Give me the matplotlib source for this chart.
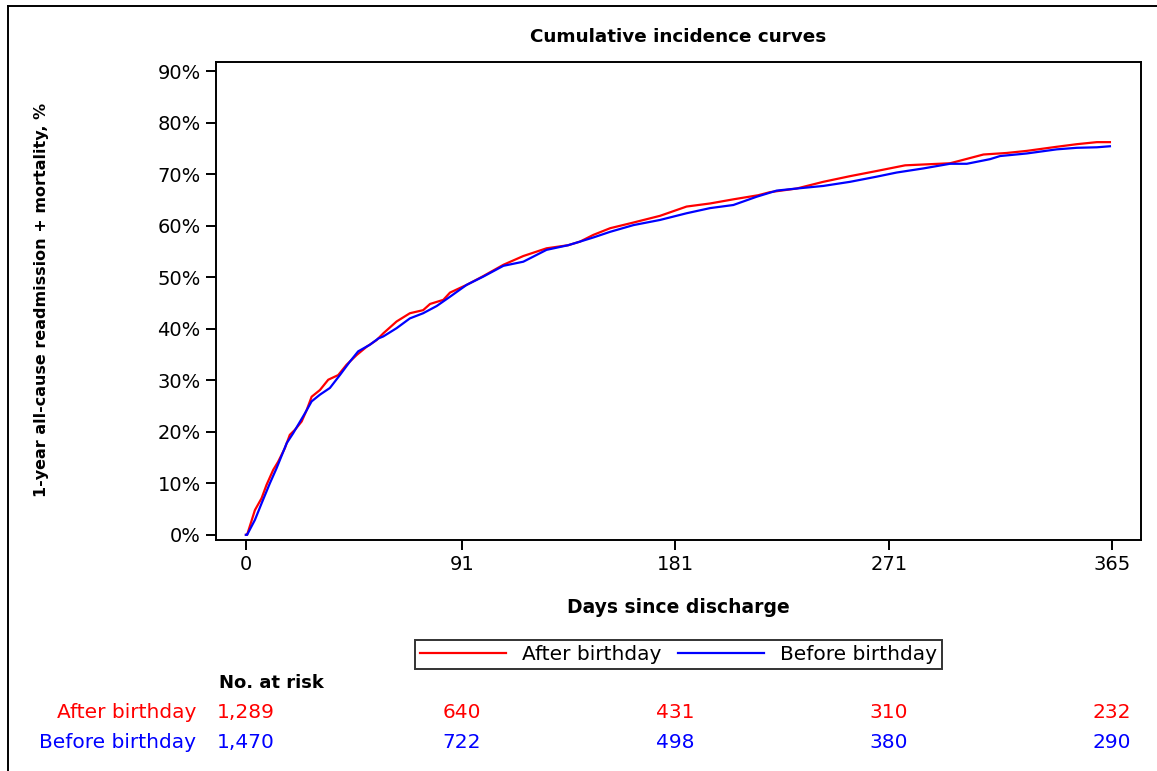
import matplotlib
matplotlib.use("Agg")
import matplotlib.pyplot as plt
import matplotlib.transforms as mtransforms
from matplotlib.lines import Line2D

plt.rcParams.update({"font.family": ["DejaVu Sans"], "font.size": 14})

# cumulative incidence (day, %)
after_days = [0, 0.5, 3.8, 6.6, 8.7, 11.5, 13.6, 16.4, 18.5, 20.7, 23.5, 25.6, 27.7,
              31.2, 34.7, 38.9, 42.4, 46.7, 50.9, 55.1, 57.9, 63.5, 69.1, 74.7, 77.6,
              83.2, 86.0, 93.0, 100, 108.5, 116.9, 126.7, 135.8, 140.8, 146.4, 153.5,
              163.3, 174.5, 185.7, 195.6, 205.4, 215.9, 220.9, 232.1, 243.3, 254.6,
              265.8, 277.8, 296.7, 300.9, 310.8, 320.6, 329.0, 341.7, 350.1, 358.6, 364.1]
after_pct = [0, 0, 4.8, 7.1, 9.7, 12.6, 14.2, 16.8, 19.4, 20.4, 22.0, 24.2, 26.8,
             28.1, 30.1, 31.0, 33.0, 34.9, 36.5, 37.8, 39.1, 41.4, 43.0, 43.6, 44.8,
             45.6, 47.0, 48.5, 50.2, 52.4, 54.1, 55.6, 56.2, 56.9, 58.2, 59.5,
             60.6, 61.9, 63.7, 64.3, 65.1, 65.9, 66.5, 67.2, 68.5, 69.6,
             70.6, 71.7, 72.1, 72.6, 73.8, 74.1, 74.5, 75.3, 75.8, 76.2, 76.2]

before_days = [0, 0.5, 3.8, 6.6, 10.1, 12.9, 17.2, 19.9, 24.9, 27.7, 31.2, 35.4, 39.6,
               43.8, 47.3, 52.3, 55.8, 57.9, 63.5, 69.1, 74.7, 80.4, 86.0, 93.0, 100,
               108.5, 116.9, 126.7, 135.8, 140.8, 146.4, 153.5, 163.3, 174.5, 185.7,
               195.6, 205.4, 215.2, 223.7, 232.1, 243.3, 254.6, 265.8, 274.2, 285.5,
               296.7, 303.8, 313.6, 317.8, 329.0, 341.7, 350.1, 358.6, 364.1]
before_pct = [0, 0, 2.9, 6.1, 10.0, 12.9, 17.8, 19.7, 23.6, 25.9, 27.2, 28.5, 31.0,
              33.6, 35.6, 36.9, 38.1, 38.5, 40.1, 42.0, 43.0, 44.4, 46.2, 48.5, 50.1,
              52.2, 53.0, 55.3, 56.2, 56.9, 57.7, 58.8, 60.1, 61.1, 62.4,
              63.4, 64.0, 65.6, 66.8, 67.2, 67.7, 68.5, 69.5, 70.3, 71.1,
              72.0, 72.0, 72.9, 73.5, 74.0, 74.8, 75.1, 75.2, 75.4]

x_ticks = [0, 91, 181, 271, 365]
y_ticks = [0, 10, 20, 30, 40, 50, 60, 70, 80, 90]
groups = ["After birthday", "Before birthday"]
colors = ["#ff0000", "#0000ff"]
at_risk = {"After birthday": [1289, 640, 431, 310, 232],
           "Before birthday": [1470, 722, 498, 380, 290]}

W, H = 1157, 771
fig = plt.figure(figsize=(W / 100, H / 100), dpi=100)
ax = fig.add_axes([216 / W, 1 - 540 / H, (1141 - 216) / W, (540 - 62) / H])

ax.plot(after_days, after_pct, color=colors[0], lw=1.6)
ax.plot(before_days, before_pct, color=colors[1], lw=1.6)

ax.set_xlim(-12.6, 377.2)
ax.set_ylim(-1.0, 91.75)
ax.set_xticks(x_ticks)
ax.set_yticks(y_ticks)
ax.set_yticklabels([f"{v}%" for v in y_ticks])
ax.tick_params(direction="out", length=7, width=1.4, labelsize=14, pad=4)
for s in ax.spines.values():
    s.set_linewidth(1.4)

fig.text(678 / W, 1 - 37 / H, "Cumulative incidence curves", fontsize=13.2,
         fontweight="bold", ha="center", va="center")
ax.set_xlabel("Days since discharge", fontsize=13.5, fontweight="bold")
ax.xaxis.set_label_coords(0.4995, -0.122)
ax.set_ylabel("1-year all-cause readmission + mortality, %", fontsize=11.5,
              fontweight="bold")
ax.yaxis.set_label_coords(-0.18, 0.502)

handles = [Line2D([], [], color=c, lw=1.6) for c in colors]
leg = fig.legend(handles, groups, loc="center", bbox_to_anchor=(678.5 / W, 1 - 654.5 / H),
                 ncol=2, fontsize=14.5, frameon=True, fancybox=False,
                 handlelength=4.3, handletextpad=0.8, columnspacing=0.8,
                 borderpad=0.25, borderaxespad=0)
leg.get_frame().set_edgecolor("black")
leg.get_frame().set_linewidth(1.4)

# number at risk table
tr = mtransforms.blended_transform_factory(ax.transData, fig.transFigure)
fig.text(219 / W, 1 - 683 / H, "No. at risk", fontsize=13, fontweight="bold",
         ha="left", va="center")
for i, g in enumerate(groups):
    yy = 1 - (713 + 29 * i) / H
    fig.text(196 / W, yy, g, color=colors[i], fontsize=14.5, ha="right", va="center")
    for d, n in zip(x_ticks, at_risk[g]):
        ax.text(d, yy, f"{n:,}", transform=tr, color=colors[i], fontsize=14.5,
                ha="center", va="center")

# outer frame (left and top edges visible)
fig.add_artist(Line2D([8 / W, 8 / W], [0, 1 - 6 / H], transform=fig.transFigure,
                      color="black", lw=1.4))
fig.add_artist(Line2D([8 / W, 1], [1 - 6 / H, 1 - 6 / H], transform=fig.transFigure,
                      color="black", lw=1.4))

fig.savefig("out.png", dpi=100)
